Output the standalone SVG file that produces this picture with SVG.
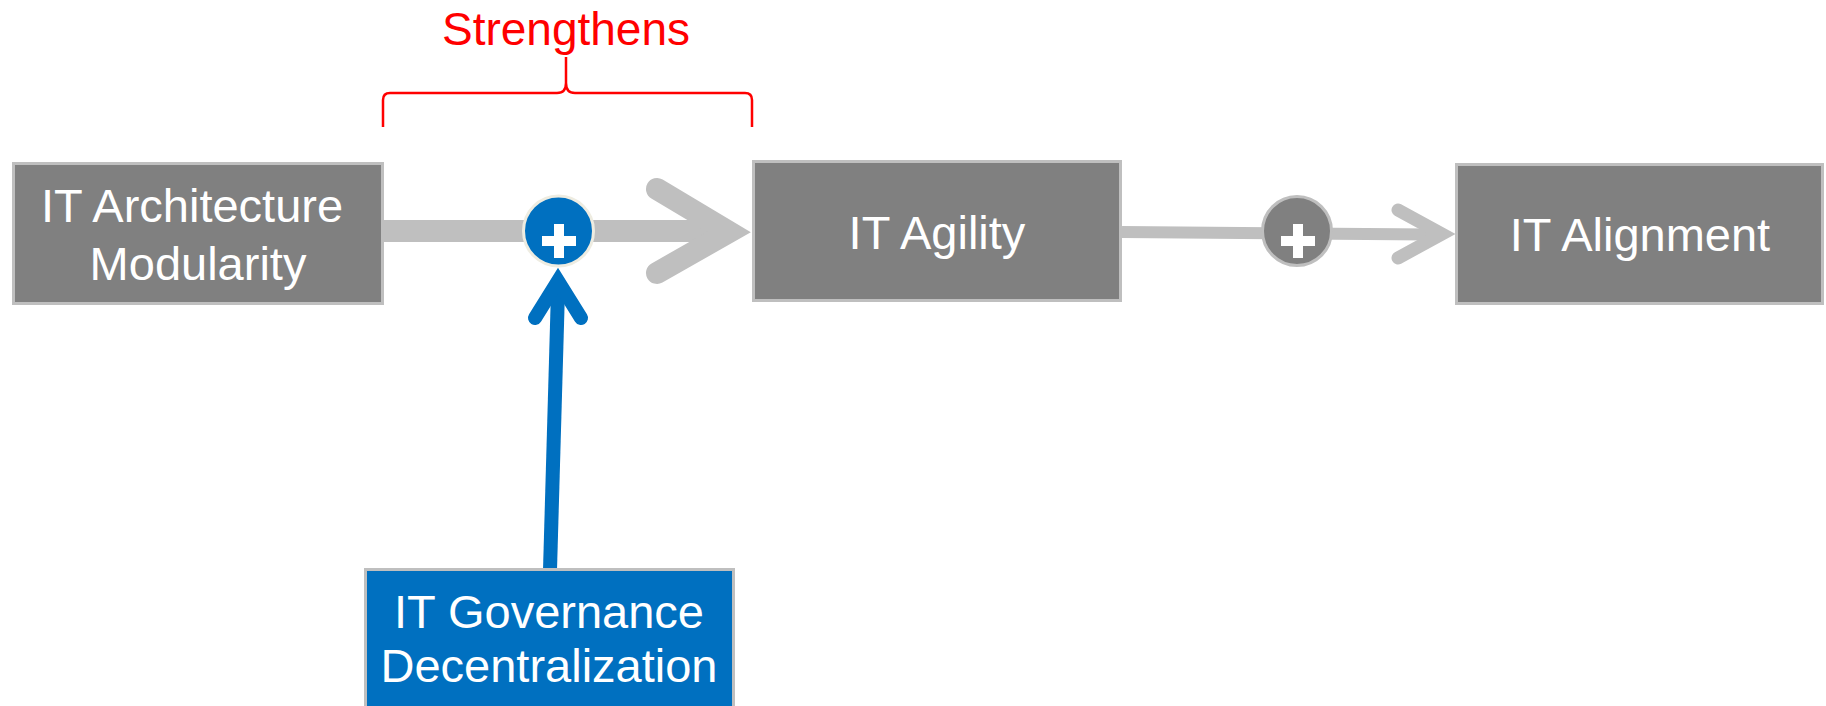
<svg xmlns="http://www.w3.org/2000/svg" width="1826" height="706" viewBox="0 0 1826 706">
<style>
.box{stroke:#BFBFBF;stroke-width:3}
.gray{fill:#808080}
.blue{fill:#0070C0}
.lbl{font-family:"Liberation Sans",Arial,sans-serif;font-size:47px;fill:#FFFFFF;text-anchor:middle}
.conn{fill:none;stroke:#BFBFBF;stroke-linecap:round;stroke-linejoin:miter}
</style>
<rect width="1826" height="706" fill="#FFFFFF"/>
<g id="connectors">
  <line x1="384" y1="231" x2="708" y2="231" stroke="#BFBFBF" stroke-width="22"/>
  <path class="conn" d="M657,189 L729,232 L657,273" stroke-width="22"/>
  <line x1="1122" y1="232" x2="1430" y2="234.5" stroke="#BFBFBF" stroke-width="12"/>
  <path class="conn" d="M1398,210 L1442,234 L1398,258" stroke-width="13"/>
  <line x1="550" y1="570" x2="558" y2="290" stroke="#0070C0" stroke-width="14"/>
  <path d="M535,318 L558,281 L581,318" fill="none" stroke="#0070C0" stroke-width="14" stroke-linecap="round"/>
</g>
<g id="junction-blue">
  <circle cx="558.5" cy="231" r="35" fill="#0070C0" stroke="#EEECE1" stroke-width="3"/>
  <rect x="542" y="236" width="34" height="10" fill="#FFFFFF"/>
  <rect x="554" y="224" width="10" height="34" fill="#FFFFFF"/>
</g>
<g id="junction-gray">
  <circle cx="1297" cy="231" r="34.5" fill="#808080" stroke="#BFBFBF" stroke-width="3"/>
  <rect x="1281" y="236" width="34" height="10" fill="#FFFFFF"/>
  <rect x="1293" y="224" width="10" height="34" fill="#FFFFFF"/>
</g>
<g id="node-modularity">
  <rect class="box gray" x="13.5" y="163.5" width="369" height="140"/>
  <text class="lbl" x="192" y="222" font-size="46">IT Architecture</text>
  <text class="lbl" x="198" y="280" font-size="46">Modularity</text>
</g>
<g id="node-agility">
  <rect class="box gray" x="753.5" y="161.5" width="367" height="139"/>
  <text class="lbl" x="937" y="249">IT Agility</text>
</g>
<g id="node-alignment">
  <rect class="box gray" x="1456.5" y="164.5" width="366" height="139"/>
  <text class="lbl" x="1640" y="251">IT Alignment</text>
</g>
<g id="node-governance">
  <rect class="box blue" x="365.5" y="569.5" width="368" height="150"/>
  <text class="lbl" x="549" y="628">IT Governance</text>
  <text class="lbl" x="549" y="682">Decentralization</text>
</g>
<g id="brace">
  <path d="M383,127 L383,100 Q383,93 390,93 L557,93 Q566,93 566,83 L566,57 M566,83 Q566,93 575,93 L745,93 Q752,93 752,100 L752,127" fill="none" stroke="#FF0000" stroke-width="2.5"/>
  <text x="566" y="45" font-family="'Liberation Sans',Arial,sans-serif" font-size="46" fill="#FF0000" text-anchor="middle">Strengthens</text>
</g>
</svg>
